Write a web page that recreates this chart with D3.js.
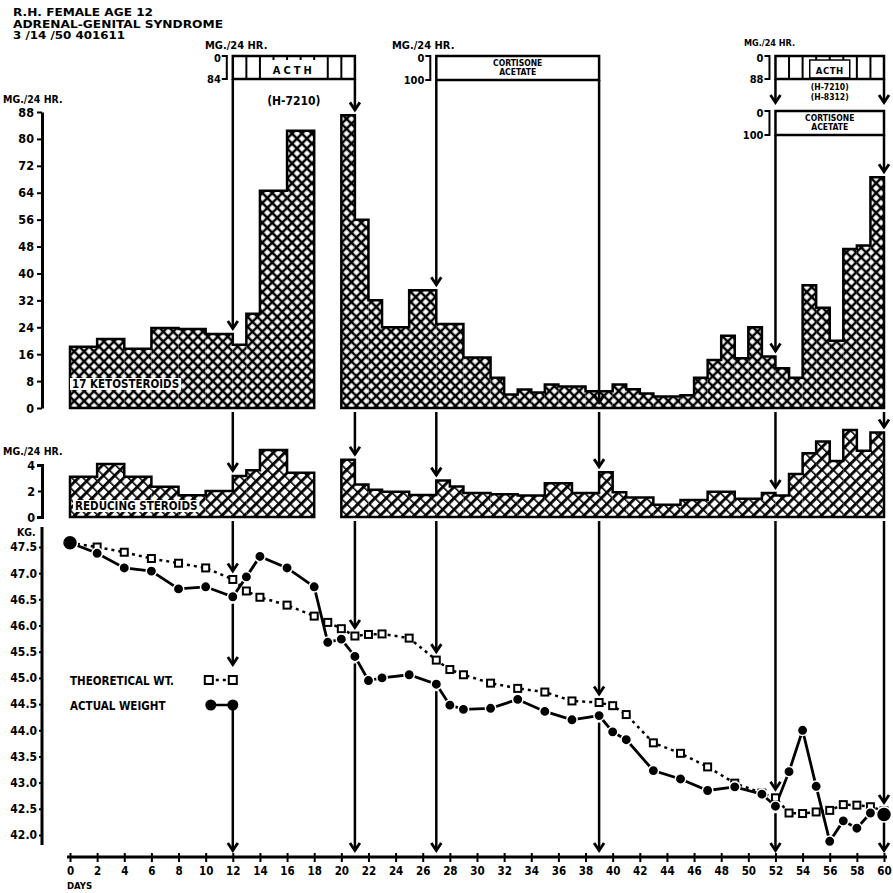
<!DOCTYPE html>
<html>
<head>
<meta charset="utf-8">
<script src="https://cdn.jsdelivr.net/npm/d3@7"></script>
<style>
  body { margin: 0; background: #fff; }
  svg text { font-family: "DejaVu Sans Condensed", "DejaVu Sans", "Liberation Sans", sans-serif; font-weight: bold; fill: #000; }
</style>
</head>
<body>
<svg id="chart" width="893" height="893"></svg>
<script>
// values

const dayTicks = d3.range(0, 61, 2);
const arrowDays = [12, 21, 27, 39, 52, 60];

// 17 ketosteroids, mg / 24 hr, one bar per collection period (day from -> day to)
const ketoFrom = [0, 2, 4, 6, 8, 10, 12, 13, 14, 16,
  20, 21, 22, 23, 25, 27, 29, 31, 32, 33, 34, 35, 36, 38, 40, 41, 42, 43, 45, 46, 47, 48, 49, 50, 51, 52, 53, 54, 55, 56, 57, 58, 59];
const ketoTo = [2, 4, 6, 8, 10, 12, 13, 14, 16, 18,
  21, 22, 23, 25, 27, 29, 31, 32, 33, 34, 35, 36, 38, 40, 41, 42, 43, 45, 46, 47, 48, 49, 50, 51, 52, 53, 54, 55, 56, 57, 58, 59, 60];
const ketoMg = [18.2, 20.5, 17.6, 23.8, 23.5, 22, 18.8, 28, 64.6, 82.4,
  87, 56, 32, 24, 35, 25, 15, 9, 4, 5.5, 4.6, 7, 6.4, 5, 7, 5.6, 4.3, 3.4, 3.8, 9, 14.3, 21.5, 14.8, 24, 15.3, 11.8, 9, 36.5, 29.8, 20, 47.3, 48.3, 68.6];

// reducing steroids, mg / 24 hr
const redFrom = [0, 2, 4, 6, 8, 10, 12, 13, 14, 16,
  20, 21, 22, 23, 25, 27, 28, 29, 31, 33, 35, 37, 39, 40, 41, 43, 45, 47, 49, 51, 52, 53, 54, 55, 56, 57, 58, 59];
const redTo = [2, 4, 6, 8, 10, 12, 13, 14, 16, 18,
  21, 22, 23, 25, 27, 28, 29, 31, 33, 35, 37, 39, 40, 41, 43, 45, 47, 49, 51, 52, 53, 54, 55, 56, 57, 58, 59, 60];
const redMg = [3.1, 4.07, 3.1, 2.33, 1.67, 2.0, 3.15, 3.6, 5.15, 3.4,
  4.4, 2.5, 2.1, 1.95, 1.7, 2.8, 2.35, 1.85, 1.75, 1.65, 2.6, 1.85, 3.45, 1.9, 1.5, 0.95, 1.3, 1.95, 1.4, 1.85, 1.65, 3.3, 4.9, 5.8, 4.3, 6.7, 5.1, 6.5];

// body weight, kg
const actualDays = [0, 2, 4, 6, 8, 10, 12, 13, 14, 16, 18, 19, 20, 21, 22, 23, 25, 27, 28, 29, 31, 33, 35, 37, 39,
  40, 41, 43, 45, 47, 49, 51, 52, 53, 54, 55, 56, 57, 58, 59, 60];
const actualKg = [47.58, 47.38, 47.1, 47.04, 46.7, 46.74, 46.55, 46.93, 47.32, 47.1, 46.74, 45.68, 45.74, 45.41, 44.95, 45.0, 45.06, 44.88, 44.48, 44.4, 44.42, 44.59, 44.36, 44.2, 44.28,
  43.97, 43.82, 43.23, 43.07, 42.85, 42.92, 42.78, 42.55, 43.21, 44.0, 42.93, 41.88, 42.27, 42.13, 42.42, 42.39];
const theoDays = [0, 2, 4, 6, 8, 10, 12, 13, 14, 16, 18, 19, 20, 21, 22, 23, 25, 27, 28, 29, 31, 33, 35, 37, 39,
  40, 41, 43, 45, 47, 49, 51, 52, 53, 54, 55, 56, 57, 58, 59, 60];
const theoKg = [47.58, 47.5, 47.4, 47.28, 47.19, 47.1, 46.88, 46.66, 46.54, 46.39, 46.18, 46.06, 45.94, 45.8, 45.83, 45.84, 45.76, 45.34, 45.16, 45.06, 44.9, 44.8, 44.73, 44.56, 44.53,
  44.47, 44.3, 43.76, 43.56, 43.3, 42.99, 42.8, 42.71, 42.42, 42.41, 42.44, 42.47, 42.58, 42.57, 42.54, 42.46];

// treatment periods
const treatName = ["ACTH", "CORTISONE|ACETATE", "ACTH", "CORTISONE|ACETATE"];
const treatFrom = [12, 27, 52, 52];
const treatTo = [21, 39, 60, 60];
const treatScale = ["0|84", "0|100", "0|88", "0|100"];
const treatNote = ["(H-7210)", "", "(H-7210)|(H-8312)", ""];

const weightTicks = d3.range(42, 47.51, 0.5);

const svg = d3.select("#chart");

const x = d3.scaleLinear().domain([0, 60]).range([70, 884]);
const yK = d3.scaleLinear().domain([0, 88]).range([408, 112]);
const yR = d3.scaleLinear().domain([0, 4]).range([517, 465]);
const yW = d3.scaleLinear().domain([42, 47.5]).range([835, 547]);

// hatching
const defs = svg.append("defs");
const kp = defs.append("pattern").attr("id", "kx")
  .attr("patternUnits", "userSpaceOnUse").attr("width", 7).attr("height", 7)
  .attr("patternTransform", "rotate(45)");
kp.append("rect").attr("width", 7).attr("height", 7).attr("fill", "#000");
kp.append("rect").attr("x", 1.25).attr("y", 1.25).attr("width", 4.5).attr("height", 4.5).attr("fill", "#fff");

const rp = defs.append("pattern").attr("id", "rx")
  .attr("patternUnits", "userSpaceOnUse").attr("width", 8).attr("height", 8)
  .attr("patternTransform", "rotate(-45)");
rp.append("rect").attr("width", 8).attr("height", 8).attr("fill", "#fff");
rp.append("rect").attr("width", 8).attr("height", 2.8).attr("fill", "#000");
rp.append("rect").attr("width", 1.6).attr("height", 8).attr("fill", "#000");

// step outline around contiguous runs of bars
function outline(from, to, vals, y) {
  let d = "";
  for (let i = 0; i < vals.length; i++) {
    if (i === 0 || from[i] !== to[i - 1]) d += `M${x(from[i])},${y(0)}`;
    d += `V${y(vals[i])}H${x(to[i])}`;
    if (i === vals.length - 1 || from[i + 1] !== to[i]) d += `V${y(0)}Z`;
  }
  return d;
}

function bars(cls, from, to, vals, y, fill) {
  const g = svg.append("g").attr("class", cls);
  g.selectAll("rect").data(vals).join("rect")
    .attr("x", (d, i) => x(from[i]))
    .attr("width", (d, i) => x(to[i]) - x(from[i]))
    .attr("y", d => y(d))
    .attr("height", d => y(0) - y(d))
    .attr("fill", fill);
  g.append("path").attr("d", outline(from, to, vals, y))
    .attr("fill", "none").attr("stroke", "#000").attr("stroke-width", 2.5);
  return g;
}

bars("keto", ketoFrom, ketoTo, ketoMg, yK, "url(#kx)");
bars("red", redFrom, redTo, redMg, yR, "url(#rx)");

// labels sitting on white inside the bars
function boxedLabel(tx, ty, str, size) {
  const t = svg.append("text").attr("x", tx).attr("y", ty).attr("font-size", size).text(str);
  const b = t.node().getBBox();
  svg.insert("rect", "text").attr("x", b.x - 2).attr("y", b.y + 1).attr("width", b.width + 4).attr("height", b.height - 2).attr("fill", "#fff");
}
boxedLabel(x(0) + 2, 388, "17 KETOSTEROIDS", 11.5);
boxedLabel(x(0) + 5, 510, "REDUCING STEROIDS", 11.5);

// axes
function styleAxis(g, size) {
  g.selectAll("text").attr("font-size", size).attr("fill", "#000");
  g.selectAll("line").attr("stroke", "#000").attr("stroke-width", 2);
  g.select(".domain").attr("stroke", "#000").attr("stroke-width", 3);
}

svg.append("g").attr("transform", "translate(42,0)")
  .call(d3.axisLeft(yK).tickValues(d3.range(0, 89, 8)).tickSize(5).tickSizeOuter(0).tickPadding(3))
  .call(g => styleAxis(g, 12.5));
svg.append("text").attr("x", 3).attr("y", 103).attr("font-size", 10.5).text("MG./24 HR.");

svg.append("g").attr("transform", "translate(42,0)")
  .call(d3.axisLeft(yR).tickValues([0, 2, 4]).tickFormat(d3.format("d")).tickSize(4).tickSizeOuter(5).tickPadding(3))
  .call(g => styleAxis(g, 12.5));
svg.append("text").attr("x", 3).attr("y", 455).attr("font-size", 10.5).text("MG./24 HR.");

svg.append("line").attr("x1", 42).attr("x2", 42).attr("y1", 527).attr("y2", 845)
  .attr("stroke", "#000").attr("stroke-width", 3);
svg.append("g").attr("transform", "translate(42,0)")
  .call(d3.axisLeft(yW).tickValues(weightTicks).tickFormat(d3.format(".1f")).tickSize(3).tickSizeOuter(0).tickPadding(2))
  .call(g => styleAxis(g, 12))
  .call(g => g.select(".domain").remove());
svg.append("text").attr("x", 17).attr("y", 536).attr("font-size", 10.5).text("KG.");

svg.append("line").attr("x1", 67).attr("x2", 887).attr("y1", 857).attr("y2", 857)
  .attr("stroke", "#000").attr("stroke-width", 3);
svg.append("g").attr("transform", "translate(0,857)")
  .call(d3.axisBottom(x).tickValues(dayTicks).tickSize(5).tickSizeOuter(0).tickPadding(5))
  .call(g => styleAxis(g, 11.5))
  .call(g => g.select(".domain").remove())
  .call(g => g.selectAll(".tick").append("line").attr("y2", -4).attr("stroke", "#000").attr("stroke-width", 2));
svg.append("text").attr("x", 67).attr("y", 889).attr("font-size", 9.5).text("DAYS");

// header
const head = ["R.H.  FEMALE   AGE 12", "ADRENAL-GENITAL  SYNDROME", "3 /14 /50    401611"];
svg.append("g").selectAll("text").data(head).join("text")
  .attr("x", 13).attr("y", (d, i) => 16 + i * 11.5).attr("font-size", 10.5).text(d => d)
  .attr("textLength", (d, i) => [140, 210, 112][i]).attr("lengthAdjust", "spacingAndGlyphs");

// arrows
function arrow(xp, y1, y2, head = true) {
  svg.append("line").attr("x1", xp).attr("x2", xp).attr("y1", y1).attr("y2", y2)
    .attr("stroke", "#000").attr("stroke-width", 2.5);
  if (head) svg.append("path").attr("d", `M${xp - 5},${y2 - 8}L${xp},${y2 - 0.5}L${xp + 5},${y2 - 8}`)
    .attr("fill", "none").attr("stroke", "#000").attr("stroke-width", 2.8);
}
function peak(from, to, vals, day) {
  let m = 0;
  vals.forEach((v, i) => { if (from[i] === day || to[i] === day) m = Math.max(m, v); });
  return m;
}

// treatment boxes along the top
const rowTop = [56, 56, 56, 111];
const rowH = [23, 24, 23, 24];
treatName.forEach((name, i) => {
  const x0 = x(treatFrom[i]), x1 = x(treatTo[i]), top = rowTop[i], h = rowH[i];
  const g = svg.append("g");
  if (name === "ACTH") {
    d3.range(treatFrom[i] + 1, treatTo[i]).forEach(dd => {
      g.append("line").attr("x1", x(dd)).attr("x2", x(dd)).attr("y1", top).attr("y2", top + h)
        .attr("stroke", "#000").attr("stroke-width", 2);
    });
    const mid = (x0 + x1) / 2, w = i === 0 ? 46 : 40;
    g.append("rect").attr("x", mid - w / 2).attr("y", top + 4).attr("width", w).attr("height", h - 5)
      .attr("fill", "#fff").attr("stroke", i === 0 ? "none" : "#000").attr("stroke-width", 1.5);
    g.append("text").attr("x", mid).attr("y", top + h - 5).attr("text-anchor", "middle")
      .attr("font-size", i === 0 ? 11 : 9.5).attr("letter-spacing", i === 0 ? 3 : 0.5)
      .text(name);
  } else {
    name.split("|").forEach((s, k) => {
      g.append("text").attr("x", (x0 + x1) / 2).attr("y", top + 10 + k * 9).attr("text-anchor", "middle")
        .attr("font-size", 8.5).text(s);
    });
  }
  g.append("rect").attr("x", x0).attr("y", top).attr("width", x1 - x0).attr("height", h)
    .attr("fill", "none").attr("stroke", "#000").attr("stroke-width", 2.5);
  // scale bracket
  const sc = treatScale[i].split("|");
  g.append("path").attr("d", `M${x0 - 11},${top}H${x0 - 6}V${top + h}H${x0 - 11}`)
    .attr("fill", "none").attr("stroke", "#000").attr("stroke-width", 2);
  g.append("text").attr("x", x0 - 12).attr("y", top + 6).attr("text-anchor", "end").attr("font-size", 11).text(sc[0]);
  g.append("text").attr("x", x0 - 12).attr("y", top + h + 4).attr("text-anchor", "end").attr("font-size", 11).text(sc[1]);
  // dose note
  treatNote[i].split("|").filter(s => s).forEach((s, k, all) => {
    g.append("text").attr("x", (x0 + x1) / 2).attr("y", all.length > 1 ? top + h + 11 + k * 9.5 : top + h + 26)
      .attr("text-anchor", "middle").attr("font-size", all.length > 1 ? 8.5 : 12).text(s);
  });
  // side lines down to the data
  [treatFrom[i], treatTo[i]].forEach(dd => {
    if (i === 2) arrow(x(dd), top + h, rowTop[3] - 8);
    else arrow(x(dd), top + h, yK(peak(ketoFrom, ketoTo, ketoMg, dd)) - 5);
  });
});
const mgLab = [[205, 49, 11], [392, 49, 11], [744, 46, 9]];
mgLab.forEach(m => svg.append("text").attr("x", m[0]).attr("y", m[1]).attr("font-size", m[2]).text("MG./24 HR."));

// arrows through the lower panels
const legY = [680, 705];
arrowDays.forEach(d => {
  const xp = x(d);
  arrow(xp, 412, yR(peak(redFrom, redTo, redMg, d)) - 5);
  const a = yW(actualKg[actualDays.indexOf(d)]), t = yW(theoKg[theoDays.indexOf(d)]);
  arrow(xp, 521, Math.min(a, t) - 8);
  if (d === 12) {
    arrow(xp, Math.max(a, t) + 7, legY[0] - 15);
    arrow(xp, legY[1], 851);
  } else {
    arrow(xp, Math.max(a, t) + 7, 851);
  }
});

// weight lines
const theoLine = d3.line().x((d, i) => x(theoDays[i])).y(d => yW(d));
const actLine = d3.line().x((d, i) => x(actualDays[i])).y(d => yW(d));
svg.append("path").attr("d", theoLine(theoKg)).attr("fill", "none")
  .attr("stroke", "#000").attr("stroke-width", 2.5).attr("stroke-dasharray", "3,4");
svg.append("path").attr("d", actLine(actualKg)).attr("fill", "none")
  .attr("stroke", "#000").attr("stroke-width", 2.8);
svg.append("g").selectAll("rect").data(theoKg.slice(1)).join("rect")
  .attr("x", (d, i) => x(theoDays[i + 1]) - 3.5).attr("y", d => yW(d) - 3.5)
  .attr("width", 7).attr("height", 7).attr("fill", "#fff").attr("stroke", "#000").attr("stroke-width", 2);
svg.append("g").selectAll("circle").data(actualKg).join("circle")
  .attr("cx", (d, i) => x(actualDays[i])).attr("cy", d => yW(d))
  .attr("r", (d, i) => (i === 0 || i === actualKg.length - 1) ? 7.5 : 5.2)
  .attr("fill", "#000").attr("stroke", "#fff").attr("stroke-width", 1.5);

// legend
const lx = x(12);
svg.append("text").attr("x", 70).attr("y", legY[0] + 5).attr("font-size", 11.5).text("THEORETICAL  WT.");
svg.append("text").attr("x", 70).attr("y", legY[1] + 5).attr("font-size", 11.5).text("ACTUAL  WEIGHT");
svg.append("line").attr("x1", lx - 24).attr("x2", lx).attr("y1", legY[0]).attr("y2", legY[0])
  .attr("stroke", "#000").attr("stroke-width", 2.5).attr("stroke-dasharray", "3,4");
[lx - 24, lx].forEach(cx => {
  svg.append("rect").attr("x", cx - 4).attr("y", legY[0] - 4).attr("width", 8).attr("height", 8)
    .attr("fill", "#fff").attr("stroke", "#000").attr("stroke-width", 2);
});
svg.append("line").attr("x1", lx - 22).attr("x2", lx).attr("y1", legY[1]).attr("y2", legY[1])
  .attr("stroke", "#000").attr("stroke-width", 2.5);
[lx - 22, lx].forEach(cx => {
  svg.append("circle").attr("cx", cx).attr("cy", legY[1]).attr("r", 5.5).attr("fill", "#000");
});
</script>
</body>
</html>
